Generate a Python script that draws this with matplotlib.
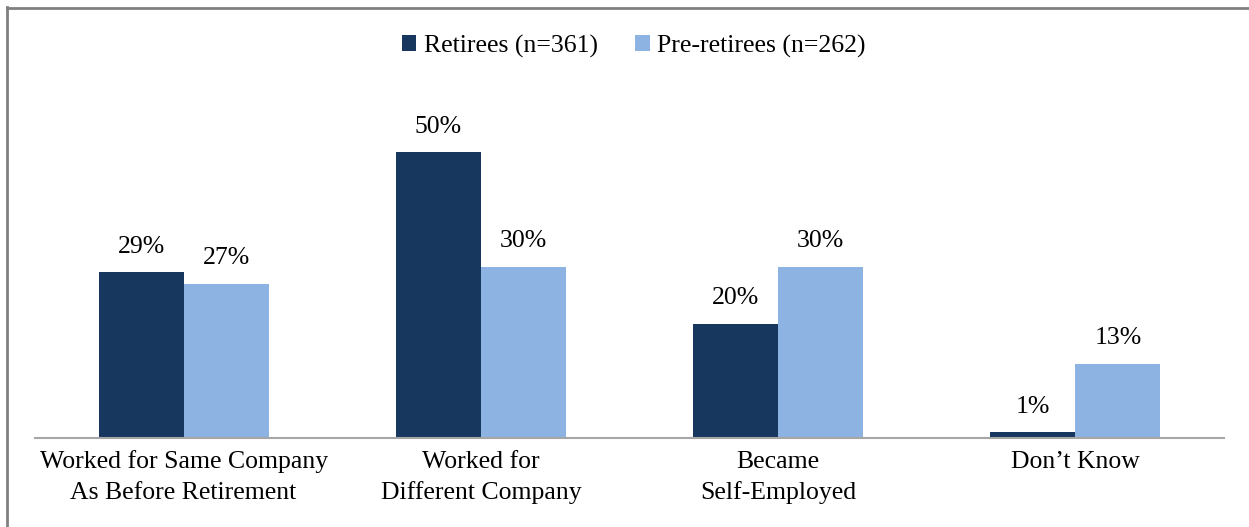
import matplotlib.pyplot as plt
import numpy as np

plt.rcParams['font.family'] = ['Liberation Serif', 'DejaVu Serif']

# Данные опроса
categories = ['Worked for Same Company\nAs Before Retirement',
              'Worked for\nDifferent Company',
              'Became\nSelf-Employed',
              'Don\u2019t Know']
retirees = [29, 50, 20, 1]
pre_retirees = [27, 30, 30, 13]
series_names = ['Retirees (n=361)', 'Pre-retirees (n=262)']
colors = ['#17375E', '#8DB3E2']

W, H = 1249, 527
fs = 18.5
fig = plt.figure(figsize=(W / 100, H / 100), dpi=100)
ax = fig.add_axes([35 / W, (H - 438) / H, (1224 - 35) / W, 343 / H])

x = np.arange(len(categories))
width = 0.286
bars1 = ax.bar(x - width / 2, retirees, width, color=colors[0], label=series_names[0])
bars2 = ax.bar(x + width / 2, pre_retirees, width, color=colors[1], label=series_names[1])

# подписи значений над столбцами
for bars, vals in [(bars1, retirees), (bars2, pre_retirees)]:
    for bar, v in zip(bars, vals):
        ax.annotate(f'{v}%', (bar.get_x() + bar.get_width() / 2, v),
                    xytext=(0, 14), textcoords='offset points',
                    ha='center', va='baseline', fontsize=fs)

ax.set_xlim(-0.5, 3.5)
ax.set_ylim(0, 60)
ax.set_xticks(x)
ax.set_xticklabels(categories, fontsize=fs, linespacing=1.5)
ax.tick_params(axis='x', length=0, pad=9)
ax.set_yticks([])
for s in ['top', 'right', 'left']:
    ax.spines[s].set_visible(False)
ax.spines['bottom'].set_color('#A6A6A6')
ax.spines['bottom'].set_linewidth(1.5)

ax.legend(loc='center', bbox_to_anchor=(634 / W, 1 - 46 / H),
          bbox_transform=fig.transFigure, ncol=2, frameon=False,
          fontsize=fs, handlelength=0.55, handleheight=0.55,
          handletextpad=0.3, columnspacing=1.45)

# рамка слева и сверху
fig.add_artist(plt.Line2D([6.5 / W, 6.5 / W], [0, 1 - 7 / H], color='#808080',
                          lw=2, transform=fig.transFigure))
fig.add_artist(plt.Line2D([6.5 / W, 1], [1 - 7.5 / H, 1 - 7.5 / H], color='#808080',
                          lw=2, transform=fig.transFigure))

plt.savefig('out.png', dpi=100)
